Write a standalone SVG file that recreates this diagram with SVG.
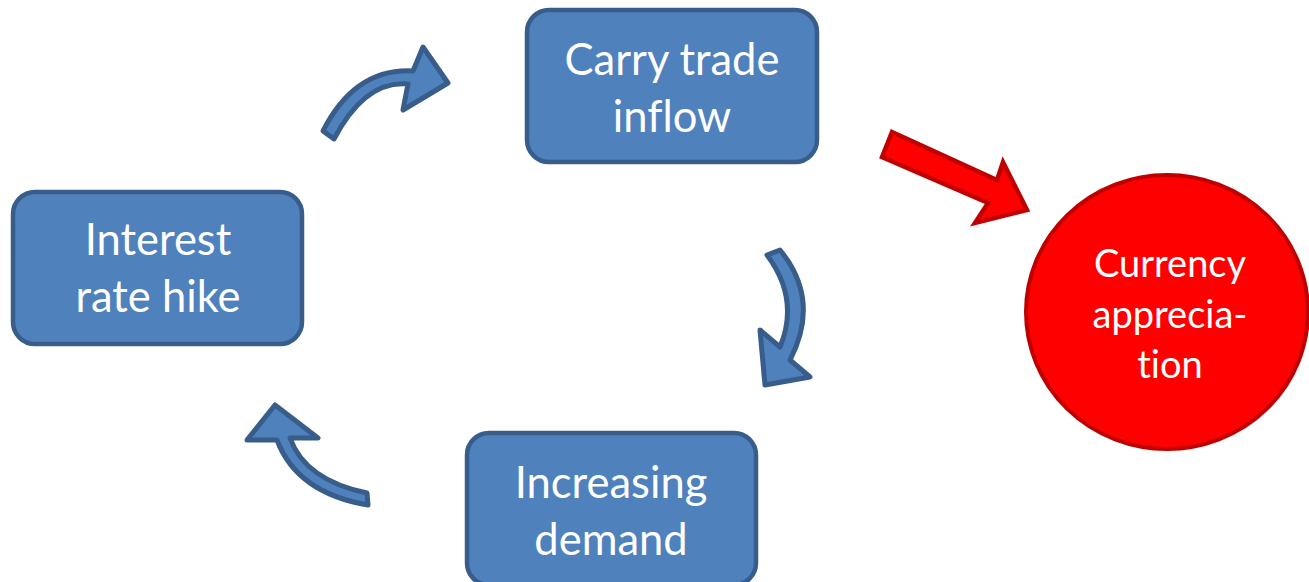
<svg xmlns="http://www.w3.org/2000/svg" width="1309" height="582" viewBox="0 0 1309 582">
  <style>
    .box { fill: #4f81bd; stroke: #385d8a; stroke-width: 4.5; }
    text { fill: #ffffff; font-family: Lato, "Open Sans", sans-serif; text-anchor: middle; font-variant-ligatures: none; }
    .lbl { font-size: 43.5px; }
    .lbl-sm { font-size: 38px; }
    .curve { fill: #4f81bd; stroke: #385d8a; stroke-width: 5; stroke-linejoin: round; }
    .push { fill: #ff0000; stroke: #c00000; stroke-width: 4.5; stroke-linejoin: miter; }
  </style>

  <g id="connectors">
    <path class="curve" d="M323,131 Q355,68 413,71 L423,47 L448,83 L403,110 L408,84 Q365,80 334,139 Z"/>
    <path class="curve" d="M767,255 L780,250 Q821,300 790,360 L810,377 L765,385 L760,330 L780,347 Q800,299 767,255 Z"/>
    <path class="curve" d="M277,440 L247,440 L275,405 L318,438 L290,438 Q305,480 367,493 L368,505 Q297,493 277,440 Z"/>
    <path class="push" d="M882,157 L892,132 L997,180 L1003,162 L1027,210 L975,223 L988,203 Z"/>
  </g>

  <g id="interest-rate-hike">
    <rect class="box" x="13" y="192" width="289" height="152" rx="22"/>
    <text class="lbl" x="158" y="255">Interest</text>
    <text class="lbl" x="158" y="312">rate hike</text>
  </g>

  <g id="carry-trade-inflow">
    <rect class="box" x="527" y="10" width="290" height="152" rx="22"/>
    <text class="lbl" x="672" y="75">Carry trade</text>
    <text class="lbl" x="672" y="132">inflow</text>
  </g>

  <g id="increasing-demand">
    <rect class="box" x="467" y="433" width="289" height="152" rx="22"/>
    <text class="lbl" x="611" y="498">Increasing</text>
    <text class="lbl" x="611" y="555">demand</text>
  </g>

  <g id="currency-appreciation">
    <ellipse cx="1167" cy="312" rx="141" ry="137" fill="#ff0000" stroke="#c00000" stroke-width="4"/>
    <text class="lbl-sm" x="1170" y="277">Currency</text>
    <text class="lbl-sm" x="1170" y="328">apprecia-</text>
    <text class="lbl-sm" x="1170" y="378">tion</text>
  </g>
</svg>
